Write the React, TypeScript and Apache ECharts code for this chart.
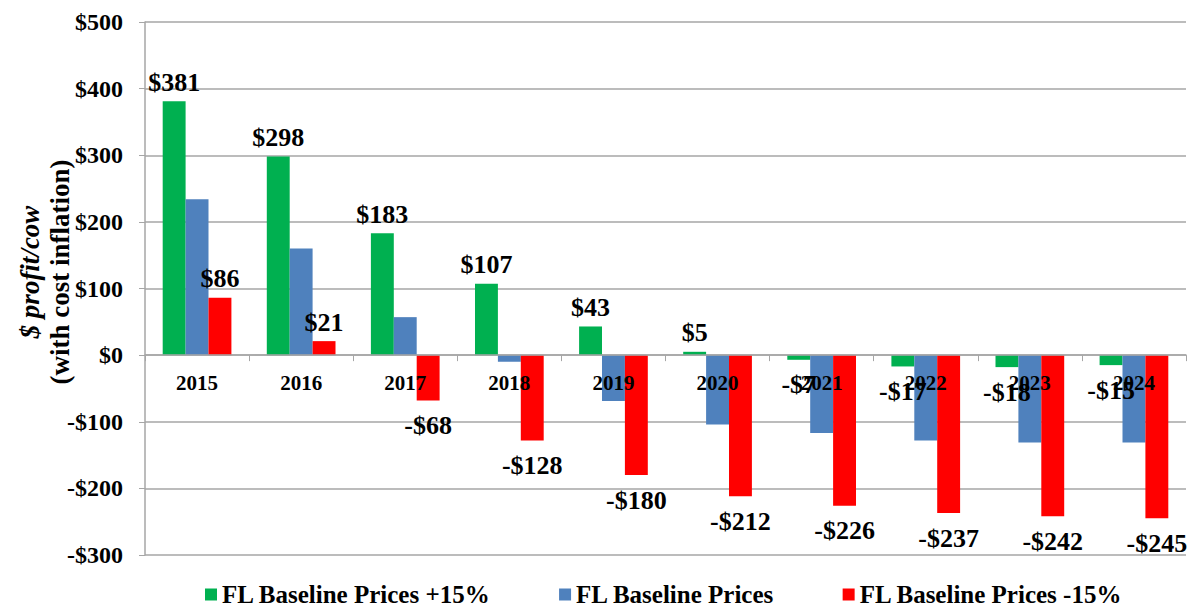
import React, { useEffect, useRef } from "react";
import * as echarts from "echarts";

const categories = ["2015", "2016", "2017", "2018", "2019", "2020", "2021", "2022", "2023", "2024"];
const plus15 = [381, 298, 183, 107, 43, 5, -7, -17, -18, -15];
const baseline = [234, 160, 57, -10, -69, -104, -117, -128, -131, -131];
const minus15 = [86, 21, -68, -128, -180, -212, -226, -237, -242, -245];
const seriesNames = ["FL Baseline Prices +15%", "FL Baseline Prices", "FL Baseline Prices -15%"];
const colors = ["#00B050", "#4F81BD", "#FF0000"];
const yMin = -300;
const yMax = 500;
const yStep = 100;

const FONT = "'Liberation Serif', 'Times New Roman', serif";

const money = (v: number) => (v < 0 ? "-$" + Math.abs(v) : "$" + v);

function labeled(values: number[]) {
  return values.map((v) => ({
    value: v,
    label: {
      show: true,
      position: v < 0 ? "bottom" : "top",
      distance: v < 0 ? 12 : 6,
      formatter: (p: any) => money(p.value),
      fontFamily: FONT,
      fontWeight: "bold",
      fontSize: 26,
      color: "#000",
    },
  }));
}

export default function App() {
  const ref = useRef<HTMLDivElement>(null);
  useEffect(() => {
    if (!ref.current) return;
    const chart = echarts.init(ref.current, undefined, { renderer: "svg" });
    const gridTop = 22;
    const gridBottom = 54;
    const gridH = 609 - gridTop - gridBottom;
    const zeroOffset = (gridH * (0 - yMin)) / (yMax - yMin);
    chart.setOption({
      animation: false,
      backgroundColor: "#fff",
      textStyle: { fontFamily: FONT },
      grid: { left: 145, right: 2, top: gridTop, bottom: gridBottom, containLabel: false, outerBoundsMode: "none" },
      legend: {
        top: 577,
        left: 200,
        padding: 5,
        itemWidth: 12,
        itemHeight: 12,
        itemGap: 68,
        icon: "rect",
        textStyle: { fontFamily: FONT, fontWeight: "bold", fontSize: 25, color: "#000" },
        data: seriesNames,
      },
      graphic: [
        {
          type: "text",
          x: 30,
          y: 272,
          rotation: Math.PI / 2,
          style: {
            text: "$ profit/cow",
            fontFamily: FONT,
            fontStyle: "italic",
            fontWeight: "bold",
            fontSize: 27,
            fill: "#000",
            align: "center",
            verticalAlign: "middle",
          },
        },
        {
          type: "text",
          x: 60,
          y: 272,
          rotation: Math.PI / 2,
          style: {
            text: "(with cost inflation)",
            fontFamily: FONT,
            fontWeight: "bold",
            fontSize: 27,
            fill: "#000",
            align: "center",
            verticalAlign: "middle",
          },
        },
      ],
      xAxis: {
        type: "category",
        data: categories,
        z: 5,
        offset: -zeroOffset,
        axisLine: { onZero: false, lineStyle: { color: "#A6A6A6", width: 1.5 } },
        axisTick: { show: true, length: 6, lineStyle: { color: "#A6A6A6" } },
        axisLabel: {
          fontFamily: FONT,
          fontWeight: "bold",
          fontSize: 21,
          color: "#000",
          margin: 17,
        },
      },
      yAxis: {
        type: "value",
        min: yMin,
        max: yMax,
        interval: yStep,
        axisLine: { show: true, lineStyle: { color: "#A6A6A6", width: 1.5 } },
        axisTick: { show: true, length: 6, lineStyle: { color: "#A6A6A6" } },
        splitLine: { show: true, lineStyle: { color: "#A6A6A6", width: 1.5 } },
        axisLabel: {
          formatter: money,
          fontFamily: FONT,
          fontWeight: "bold",
          fontSize: 24,
          color: "#000",
          margin: 22,
        },
      },
      series: [
        {
          name: seriesNames[0],
          type: "bar",
          data: labeled(plus15),
          itemStyle: { color: colors[0] },
          barGap: "0%",
          barCategoryGap: "34%",
        },
        {
          name: seriesNames[1],
          type: "bar",
          data: baseline,
          itemStyle: { color: colors[1] },
          barGap: "0%",
          barCategoryGap: "34%",
        },
        {
          name: seriesNames[2],
          type: "bar",
          data: labeled(minus15),
          itemStyle: { color: colors[2] },
          barGap: "0%",
          barCategoryGap: "34%",
        },
      ],
    });
    return () => chart.dispose();
  }, []);
  return (
    <div
      ref={ref}
      style={{ position: "fixed", left: 0, top: 0, width: 1188, height: 609, background: "#fff" }}
    />
  );
}
